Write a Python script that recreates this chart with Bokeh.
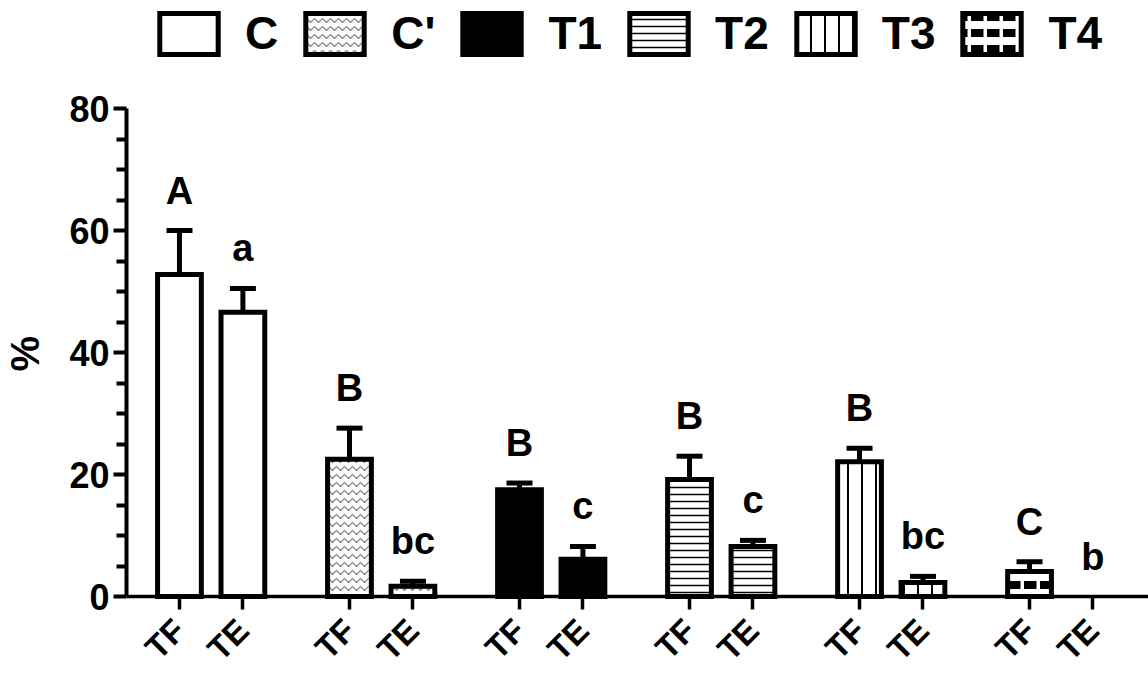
import math
from bokeh.plotting import figure
from bokeh.models import (ColumnDataSource, Whisker, TeeHead, FixedTicker, Legend,
                          LegendItem, Range1d, LinearAxis)
from bokeh.core.properties import value
from bokeh.embed import file_html
from bokeh.resources import INLINE

# ---------------- data ----------------
treatments = ["C", "C'", "T1", "T2", "T3", "T4"]
subgroups = ["TF", "TE"]
tf_mean = [52.8, 22.5, 17.5, 19.2, 22.1, 4.1]
tf_err = [7.2, 5.1, 1.1, 3.8, 2.2, 1.6]
te_mean = [46.6, 1.7, 6.1, 8.2, 2.3, 0.0]
te_err = [3.9, 0.8, 2.1, 1.0, 1.0, 0.0]
tf_letters = ["A", "B", "B", "B", "B", "C"]
te_letters = ["a", "bc", "c", "c", "bc", "b"]
y_ticks = [0, 20, 40, 60, 80]

# ---------------- styling ----------------
FONT_NAME = "Liberation Sans"
FONT = value(FONT_NAME)
STEP = 2.68      # distance between groups (in bar slots)
BAR_W = 0.69
LW = 5
W, H = 1148, 673
PX_Y = 488 / 80          # pixels per y unit
Y0_PX = 596              # canvas row of y = 0

styles = [
    dict(fill_color="white"),
    dict(fill_color="white", hatch_pattern="horizontal_wave", hatch_color="#777777",
         hatch_scale=8, hatch_weight=1.2),
    dict(fill_color="black"),
    dict(fill_color="white", hatch_pattern="horizontal_line", hatch_color="black",
         hatch_scale=7, hatch_weight=1.5),
    dict(fill_color="white", hatch_pattern="vertical_line", hatch_color="black",
         hatch_scale=14, hatch_weight=2),
    dict(fill_color="white", hatch_pattern="horizontal_dash", hatch_color="black",
         hatch_scale=16, hatch_weight=8),
]

x_tf = [g * STEP for g in range(len(treatments))]
x_te = [g * STEP + 1 for g in range(len(treatments))]

x_start = -0.835
x_end = x_start + (W - 125) / 63.5
y_start = -(H - Y0_PX) / PX_Y
y_end = Y0_PX / PX_Y

p = figure(width=W, height=H, output_backend="svg", toolbar_location=None,
           x_range=Range1d(x_start, x_end), y_range=Range1d(y_start, y_end),
           x_axis_location=None,
           min_border_left=125, min_border_right=0, min_border_top=0,
           min_border_bottom=0)
p.xgrid.visible = False
p.ygrid.visible = False
p.outline_line_color = None
p.background_fill_color = "white"

items = []
for g, name in enumerate(treatments):
    xs, tops = [], []
    for x, m in ((x_tf[g], tf_mean[g]), (x_te[g], te_mean[g])):
        if m > 0:
            xs.append(x)
            tops.append(m)
    src = ColumnDataSource(dict(x=xs, top=tops))
    r = p.vbar(x="x", top="top", bottom=0, width=BAR_W, source=src,
               line_color="black", line_width=LW, line_join="miter", **styles[g])
    items.append(LegendItem(label=name, renderers=[r]))

# error bars (upper only)
wx, wlo, whi = [], [], []
for g in range(len(treatments)):
    for x, m, e in ((x_tf[g], tf_mean[g], tf_err[g]), (x_te[g], te_mean[g], te_err[g])):
        if e > 0:
            wx.append(x)
            wlo.append(m)
            whi.append(m + e)
wsrc = ColumnDataSource(dict(x=wx, lower=wlo, upper=whi))
p.add_layout(Whisker(base="x", lower="lower", upper="upper", source=wsrc,
                     line_width=LW, line_color="black",
                     upper_head=TeeHead(size=26, line_width=LW, line_color="black"),
                     lower_head=None))

# significance letters
lx, ly, lt = [], [], []
for g in range(len(treatments)):
    lx += [x_tf[g], x_te[g]]
    ly += [tf_mean[g] + tf_err[g], te_mean[g] + te_err[g]]
    lt += [tf_letters[g], te_letters[g]]
p.text(x=lx, y=ly, text=lt, text_align="center", text_baseline="alphabetic",
       y_offset=-40, text_font=FONT, text_font_style="bold", text_font_size="38px",
       text_color="black")

# x axis drawn at y = 0
tick_x = []
tick_lab = {}
for g in range(len(treatments)):
    tick_x += [x_tf[g], x_te[g]]
    tick_lab[x_tf[g]] = subgroups[0]
    tick_lab[x_te[g]] = subgroups[1]

xa = LinearAxis(fixed_location=0, ticker=FixedTicker(ticks=tick_x))
xa.major_label_overrides = tick_lab
xa.major_label_orientation = math.pi / 4
xa.axis_line_width = 3.5
xa.major_tick_line_width = 3.5
xa.major_tick_out = 13
xa.major_tick_in = 0
xa.minor_tick_line_color = None
xa.major_label_standoff = 15
xa.major_label_text_font = FONT_NAME
xa.major_label_text_font_style = "bold"
xa.major_label_text_font_size = "33px"
xa.major_label_text_color = "black"
p.add_layout(xa, "below")

minor = [v for v in range(0, 81, 5) if v % 20 != 0]
ya = p.yaxis[0]
ya.ticker = FixedTicker(ticks=y_ticks, minor_ticks=minor)
ya.bounds = (y_ticks[0], y_ticks[-1])
ya.axis_line_width = 4
ya.major_tick_line_width = 4
ya.minor_tick_line_width = 4
ya.major_tick_out = 13
ya.major_tick_in = 0
ya.minor_tick_out = 10
ya.minor_tick_in = 0
ya.major_label_standoff = 4
ya.major_label_text_font = FONT_NAME
ya.major_label_text_font_style = "bold"
ya.major_label_text_font_size = "36px"
ya.major_label_text_color = "black"
ya.axis_label = "%\u00a0\u00a0\u00a0"
ya.axis_label_text_font = FONT_NAME
ya.axis_label_text_font_style = "bold"
ya.axis_label_text_font_size = "40px"
ya.axis_label_text_color = "black"
ya.axis_label_standoff = 19

legend = Legend(items=items, orientation="horizontal", location=(26, 613),
                glyph_width=73, glyph_height=51, label_standoff=20, spacing=20,
                padding=0, margin=0, border_line_color=None,
                background_fill_alpha=0,
                label_text_font=FONT_NAME, label_text_font_style="bold",
                label_text_font_size="46px", label_text_color="black")
p.add_layout(legend)

open("out.html", "w").write(file_html(p, INLINE))
